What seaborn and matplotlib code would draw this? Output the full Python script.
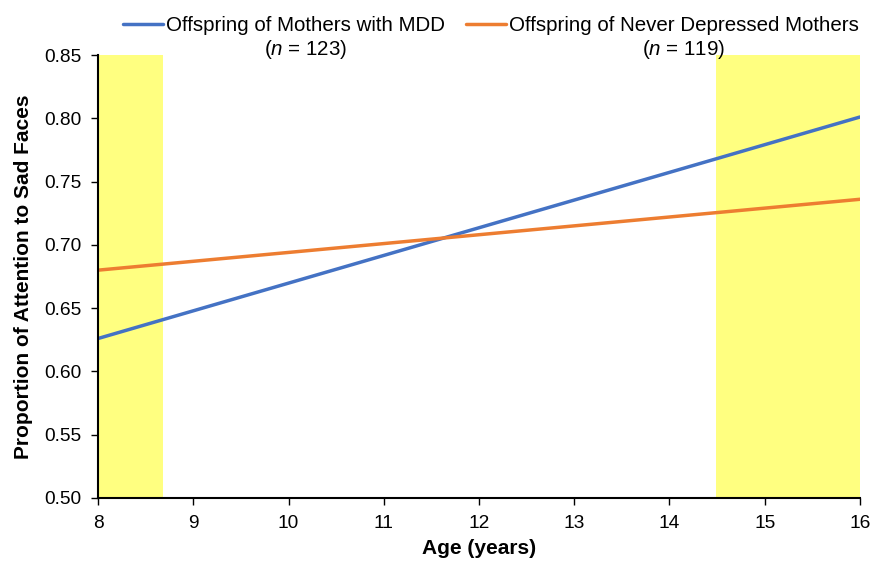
import numpy as np
import pandas as pd
import matplotlib
matplotlib.use('Agg')
import matplotlib.pyplot as plt
import seaborn as sns

sns.set_style('white')
plt.rcParams['font.family'] = ['Liberation Sans', 'DejaVu Sans']
plt.rcParams['mathtext.fontset'] = 'custom'
plt.rcParams['mathtext.it'] = 'Liberation Sans:italic'
plt.rcParams['mathtext.rm'] = 'Liberation Sans'
plt.rcParams['text.color'] = 'black'
plt.rcParams['axes.labelcolor'] = 'black'
plt.rcParams['xtick.color'] = 'black'
plt.rcParams['ytick.color'] = 'black'

age = [8, 16]
mdd = [0.626, 0.801]
never = [0.680, 0.736]
groups = ['Offspring of Mothers with MDD', 'Offspring of Never Depressed Mothers']
n_labels = ['($n$ = 123)', '($n$ = 119)']
spans = [(8, 8.68), (14.49, 16)]

df = pd.DataFrame({
    'Age': age + age,
    'Proportion': mdd + never,
    'Group': [groups[0]] * 2 + [groups[1]] * 2,
})

fig = plt.figure(figsize=(8.73, 5.63), dpi=100)
ax = fig.add_axes([0.1123, 0.1155, 0.8727, 0.7868])

for a, b in spans:
    ax.axvspan(a, b, color='#FFFF80', lw=0, zorder=0)

sns.lineplot(data=df, x='Age', y='Proportion', hue='Group',
             palette=['#4472C4', '#ED7D31'], linewidth=2.5, ax=ax)

ax.set_xlim(8, 16)
ax.set_ylim(0.50, 0.85)
ax.set_xticks(range(8, 17))
yt = np.arange(0.50, 0.851, 0.05)
ax.set_yticks(yt)
ax.set_yticklabels([f'{v:.2f}' for v in yt])
ax.tick_params(axis='both', direction='out', length=5, width=1,
               color='black', labelsize=13.8, bottom=True, left=True, pad=7)
for s in ['top', 'right']:
    ax.spines[s].set_visible(False)
for s in ['left', 'bottom']:
    ax.spines[s].set_color('black')
    ax.spines[s].set_linewidth(1.5)

ax.set_xlabel('Age (years)', fontsize=15, fontweight='bold', labelpad=5)
ax.set_ylabel('Proportion of Attention to Sad Faces', fontsize=15,
              fontweight='bold', labelpad=8)

ax.get_legend().remove()
h, l = ax.get_legend_handles_labels()
leg = fig.legend(h, l, loc='upper center', bbox_to_anchor=(0.5625, 1.0),
                 ncol=2, frameon=False, fontsize=14.8, handlelength=1.95,
                 handletextpad=0.15, columnspacing=1.0, borderaxespad=0.4)

# "(n = ...)" lines centred under each legend label
fig.canvas.draw()
inv = fig.transFigure.inverted()
for t, nl in zip(leg.get_texts(), n_labels):
    bb = t.get_window_extent()
    (x0, y0), (x1, y1) = inv.transform([[bb.x0, bb.y0], [bb.x1, bb.y1]])
    fig.text((x0 + x1) / 2, y0 - 0.004, nl, ha='center', va='top',
             fontsize=14.8)

plt.savefig('out.png', dpi=100)
